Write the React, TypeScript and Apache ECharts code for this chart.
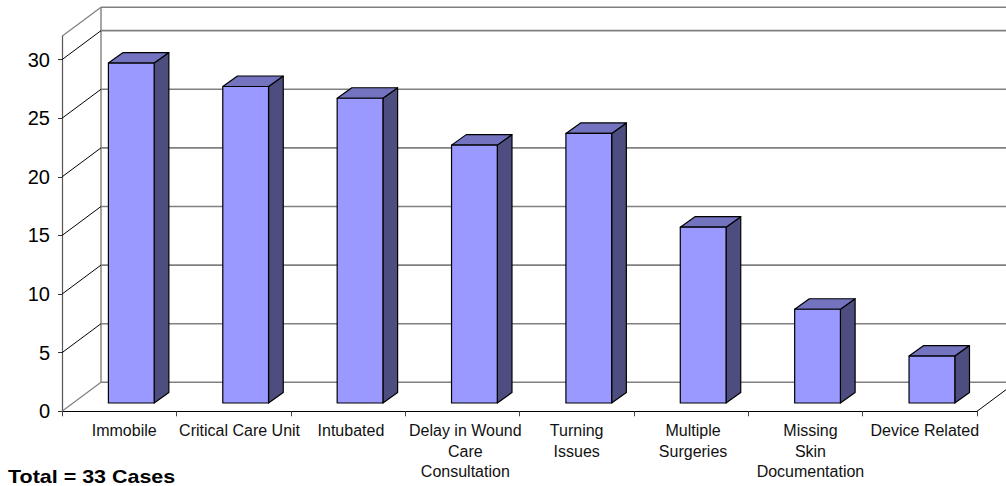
import React, { useEffect, useRef } from "react";
import * as echarts from "echarts";

const categories = [
  "Immobile",
  "Critical Care Unit",
  "Intubated",
  "Delay in Wound\nCare\nConsultation",
  "Turning\nIssues",
  "Multiple\nSurgeries",
  "Missing\nSkin\nDocumentation",
  "Device Related",
];
const caseCounts = [29, 27, 26, 22, 23, 15, 8, 4];
const wallLevels = [0, 5, 10, 15, 20, 25, 30, 32];
const totalNote = "Total = 33 Cases";

const FONT = '"Liberation Sans", Arial, sans-serif';
const WALL_DX = 39;
const WALL_DY = -29;
const BAR_DX = 14.7;
const BAR_DY = -10.5;
const BAR_SHIFT_X = 12.1;
const BAR_SHIFT_Y = 8.3;
const BAR_RATIO = 0.4;
const LABEL_SHIFT = [5, 6, 3, 3, 0, 2, 5, 5];

export default function App() {
  const ref = useRef<HTMLDivElement>(null);
  useEffect(() => {
    const chart = echarts.init(ref.current!, undefined, { renderer: "svg" });
    const line = (x1: number, y1: number, x2: number, y2: number, stroke: string, lineWidth: number) => ({
      type: "line",
      shape: { x1, y1, x2, y2 },
      style: { stroke, lineWidth, fill: null },
      silent: true,
    });
    chart.setOption({
      animation: false,
      backgroundColor: "#ffffff",
      grid: { left: 62, right: 29, top: 36.2, bottom: 74.7, containLabel: false },
      xAxis: {
        type: "category",
        data: categories.map((value, i) => ({
          value,
          textStyle: { padding: [0, 0, 0, LABEL_SHIFT[i] * 2] },
        })),
        axisLine: { lineStyle: { color: "#000000", width: 1.2 } },
        axisTick: { show: true, length: 5, lineStyle: { color: "#444444", width: 1 } },
        axisLabel: {
          interval: 0,
          color: "#111111",
          fontFamily: FONT,
          fontSize: 16,
          lineHeight: 20.5,
          margin: 9,
        },
      },
      yAxis: {
        type: "value",
        min: 0,
        max: 32,
        interval: 5,
        axisLine: { show: true, lineStyle: { color: "#555555", width: 1.2 } },
        axisTick: { show: true, length: 4, lineStyle: { color: "#333333", width: 1 } },
        splitLine: { show: false },
        axisLabel: {
          color: "#000000",
          fontFamily: FONT,
          fontSize: 20,
          margin: 12,
          showMaxLabel: false,
          formatter: (v: number) => (v === 32 ? "" : String(v)),
        },
      },
      graphic: [
        {
          type: "text",
          x: 8,
          y: 476,
          scaleX: 1.13,
          style: { text: totalNote, font: `bold 19px ${FONT}`, fill: "#000000", verticalAlign: "middle" },
        },
      ],
      series: [
        {
          type: "custom",
          coordinateSystem: "cartesian2d",
          z: 1,
          silent: true,
          data: wallLevels.map((v) => [0, v]),
          renderItem: (_p: any, api: any) => {
            const v = api.value(1);
            const [cx, y] = api.coord([0, v]);
            const band = api.size([1, 0])[0];
            const left = cx - band / 2;
            const right = left + band * categories.length;
            const children: any[] = [];
            const diagColor = v === 0 || v === 32 ? "#808080" : "#000000";
            children.push(line(left, y, left + WALL_DX, y + WALL_DY, diagColor, v === 0 || v === 32 ? 1.2 : 1));
            children.push(line(left + WALL_DX, y + WALL_DY, right + WALL_DX, y + WALL_DY, "#808080", 1.6));
            if (v === 0) {
              const [, top] = api.coord([0, 32]);
              children.push(line(left + WALL_DX, y + WALL_DY, left + WALL_DX, top + WALL_DY, "#909090", 1.6));
              children.push(line(right, y, right + WALL_DX, y + WALL_DY, "#000000", 1));
            }
            return { type: "group", children };
          },
        },
        {
          type: "custom",
          coordinateSystem: "cartesian2d",
          z: 3,
          silent: true,
          data: caseCounts.map((v, i) => [i, v]),
          renderItem: (_p: any, api: any) => {
            const [cx, yTop0] = api.coord([api.value(0), api.value(1)]);
            const [, yBase0] = api.coord([api.value(0), 0]);
            const band = api.size([1, 0])[0];
            const w = band * BAR_RATIO;
            const x0 = cx - w / 2 + BAR_SHIFT_X;
            const x1 = x0 + w;
            const yT = yTop0 - BAR_SHIFT_Y;
            const yB = yBase0 - BAR_SHIFT_Y;
            const stroke = { stroke: "#000000", lineWidth: 1.2, lineJoin: "round" };
            return {
              type: "group",
              children: [
                {
                  type: "polygon",
                  shape: { points: [[x1, yT], [x1 + BAR_DX, yT + BAR_DY], [x1 + BAR_DX, yB + BAR_DY], [x1, yB]] },
                  style: { fill: "#4D4D80", ...stroke },
                },
                {
                  type: "polygon",
                  shape: { points: [[x0, yT], [x0 + BAR_DX, yT + BAR_DY], [x1 + BAR_DX, yT + BAR_DY], [x1, yT]] },
                  style: { fill: "#7373BF", ...stroke },
                },
                {
                  type: "rect",
                  shape: { x: x0, y: yT, width: w, height: yB - yT },
                  style: { fill: "#9999FF", ...stroke },
                },
              ],
            };
          },
        },
      ],
    });
    return () => chart.dispose();
  }, []);
  return (
    <div
      ref={ref}
      style={{ position: "absolute", left: 0, top: 0, width: 1006, height: 486, overflow: "hidden" }}
    />
  );
}
